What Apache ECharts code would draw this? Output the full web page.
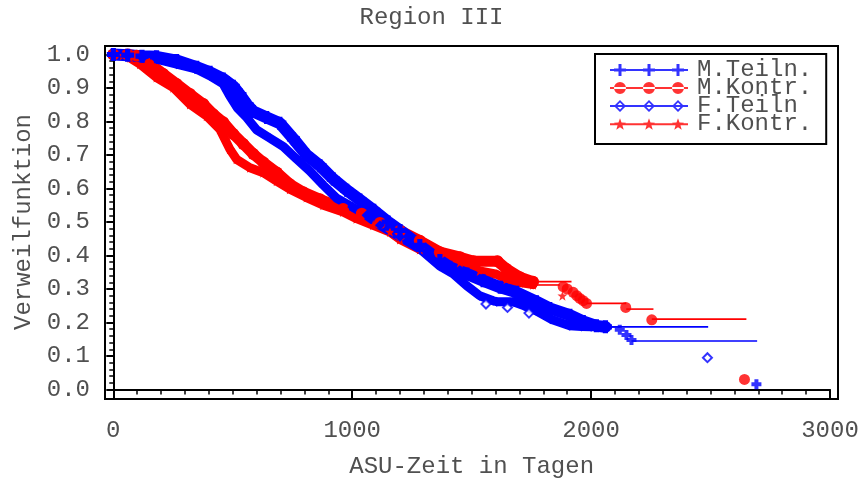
<!DOCTYPE html>
<html><head><meta charset="utf-8">
<script src="https://cdn.jsdelivr.net/npm/echarts@6/dist/echarts.min.js"></script>
<style>html,body{margin:0;padding:0;background:#fff}#c{width:863px;height:479px}</style>
</head><body><div id="c"></div>
<script>
// ---------- data ----------
const seriesNames = ['M.Teiln.', 'M.Kontr.', 'F.Teiln', 'F.Kontr.'];
const xTickValues = [0, 1000, 2000, 3000];
const yTickValues = [0, 0.1, 0.2, 0.3, 0.4, 0.5, 0.6, 0.7, 0.8, 0.9, 1.0];

// dense part of each Kaplan-Meier curve (time in days, survival)
const mTeilnT = [0, 60, 120, 181, 265, 349, 405, 460, 502, 530, 560, 586, 642, 697, 754, 809, 865, 921, 977, 1032, 1090, 1150, 1200, 1283, 1367, 1409, 1480, 1548, 1620, 1688, 1771, 1827, 1911, 1967, 2022, 2060];
const mTeilnS = [1.0, 0.998, 0.995, 0.993, 0.982, 0.962, 0.947, 0.927, 0.905, 0.88, 0.85, 0.83, 0.812, 0.795, 0.748, 0.70, 0.668, 0.628, 0.595, 0.566, 0.535, 0.50, 0.475, 0.43, 0.385, 0.365, 0.345, 0.325, 0.305, 0.29, 0.262, 0.242, 0.222, 0.203, 0.19, 0.187];

const fTeilnT = [0, 60, 120, 181, 265, 349, 405, 460, 488, 520, 558, 600, 656, 712, 767, 823, 879, 935, 1000, 1060, 1116, 1200, 1283, 1367, 1423, 1479, 1534, 1590, 1605, 1674, 1720, 1770, 1832, 1911, 1960, 2000];
const fTeilnS = [1.0, 0.996, 0.99, 0.986, 0.971, 0.956, 0.936, 0.912, 0.876, 0.84, 0.812, 0.775, 0.75, 0.725, 0.688, 0.652, 0.61, 0.571, 0.545, 0.52, 0.49, 0.455, 0.42, 0.368, 0.345, 0.31, 0.28, 0.265, 0.262, 0.262, 0.25, 0.235, 0.21, 0.19, 0.188, 0.187];

const mKontrT = [0, 60, 98, 154, 209, 265, 321, 377, 418, 460, 502, 544, 586, 628, 684, 739, 795, 865, 962, 1040, 1116, 1200, 1283, 1367, 1451, 1508, 1608, 1646, 1702, 1757];
const mKontrS = [1.0, 1.0, 0.996, 0.972, 0.942, 0.912, 0.882, 0.852, 0.822, 0.798, 0.763, 0.733, 0.703, 0.678, 0.648, 0.613, 0.589, 0.568, 0.539, 0.525, 0.497, 0.474, 0.444, 0.41, 0.395, 0.383, 0.383, 0.36, 0.335, 0.322];

const fKontrT = [0, 40, 70, 112, 181, 251, 321, 391, 446, 488, 516, 572, 628, 684, 739, 809, 879, 962, 1018, 1088, 1158, 1200, 1283, 1367, 1451, 1534, 1604, 1646, 1702, 1757];
const fKontrS = [1.0, 0.998, 0.99, 0.971, 0.931, 0.901, 0.851, 0.816, 0.777, 0.717, 0.687, 0.662, 0.647, 0.622, 0.598, 0.573, 0.55, 0.53, 0.51, 0.49, 0.47, 0.448, 0.418, 0.395, 0.379, 0.354, 0.344, 0.329, 0.319, 0.313];

// thin horizontal steps of the sparse tails: [from, to, survival]
const mTeilnSteps = [[2060, 2120, 0.187], [2169, 2695, 0.145]];
const fTeilnSteps = [[2000, 2490, 0.187]];
const mKontrSteps = [[1757, 1918, 0.322], [1981, 2147, 0.257], [2147, 2261, 0.24], [2254, 2650, 0.21]];
const fKontrSteps = [[1757, 1869, 0.312]];

// censor / event markers of the tails: [time, survival]
const mTeilnMarks = [[2120, 0.178], [2148, 0.163], [2169, 0.148], [2692, 0.016]];
const fTeilnMarks = [[1560, 0.255], [1650, 0.245], [1740, 0.228], [2487, 0.095]];
const mKontrMarks = [[1883, 0.307], [1900, 0.30], [1925, 0.29], [1940, 0.28], [1953, 0.272], [1967, 0.265], [1981, 0.257], [2145, 0.245], [2254, 0.208], [2642, 0.03]];
const fKontrMarks = [[1880, 0.28]];

// ---------- styling ----------
const FONT = '"Liberation Mono", "DejaVu Sans Mono", monospace';
const TXT = '#505050';
const BLUE = '#0000ff', RED = '#ff0000';
const zip = (a, b) => a.map((v, i) => [v, b[i]]);

const plusSym = 'path://M3,0h4v3h3v4h-3v3h-4v-3h-3v-4h3z';
const starSym = 'path://M5,0L6.18,3.38L9.76,3.45L6.9,5.62L7.94,9.05L5,7L2.06,9.05L3.1,5.62L0.24,3.45L3.82,3.38Z';

function markerD(kind, cx) {
  if (kind === 'plus') return `M${cx-1.5},0h3v4.5h4.5v3h-4.5v4.5h-3v-4.5h-4.5v-3h4.5z`;
  if (kind === 'circle') return `M${cx-6},6a6,6 0 1,0 12,0a6,6 0 1,0 -12,0z`;
  if (kind === 'diamond') return `M${cx},0L${cx+6},6L${cx},12L${cx-6},6Z M${cx},2.5L${cx-3.5},6L${cx},9.5L${cx+3.5},6Z`;
  let d = '';
  for (let k = 0; k < 10; k++) {
    const r = k % 2 === 0 ? 6.3 : 2.6;
    const a = (-90 + k * 36) * Math.PI / 180;
    d += (k === 0 ? 'M' : 'L') + (cx + r * Math.cos(a)).toFixed(2) + ',' + (6.3 + r * Math.sin(a)).toFixed(2);
  }
  return d + 'Z';
}
function legendIcon(kind) {
  let d = 'M0,5H78V7H0Z';
  for (const cx of [10, 39, 68]) d += ' ' + markerD(kind, cx);
  return 'path://' + d;
}

function bandSeries(name, data, color, symbol, size, width) {
  return { type: 'line', name, xAxisIndex: 1, yAxisIndex: 1, data, symbol, symbolSize: size,
    showSymbol: true, showAllSymbol: true, clip: false, z: 2, silent: true,
    lineStyle: { width, color, cap: 'round', join: 'round' },
    itemStyle: { color, borderWidth: 0 }, emphasis: { disabled: true } };
}
function stepSeries(name, data, color) {
  return { type: 'custom', name, xAxisIndex: 1, yAxisIndex: 1, data, encode: { x: [0, 1], y: 2 },
    clip: false, z: 3, silent: true,
    renderItem: (params, api) => {
      const a = api.coord([api.value(0), api.value(2)]);
      const b = api.coord([api.value(1), api.value(2)]);
      return { type: 'line', shape: { x1: a[0], y1: a[1], x2: b[0], y2: b[1] }, style: { stroke: color, lineWidth: 1.6 } };
    } };
}
function markSeries(name, data, color, symbol, size) {
  return { type: 'scatter', name, xAxisIndex: 1, yAxisIndex: 1, data, symbol, symbolSize: size,
    itemStyle: { color, borderWidth: 0 }, clip: false, z: 4, silent: true };
}

const axisText = { fontFamily: FONT, fontSize: 24, color: TXT };

const option = {
  animation: false,
  backgroundColor: '#fff',
  title: { text: 'Region III', left: 'center', top: 6, padding: 0,
    textStyle: { fontFamily: FONT, fontSize: 24, fontWeight: 'normal', color: TXT } },
  grid: [
    { left: 105, top: 46, width: 733, height: 353, show: true, borderColor: '#000', borderWidth: 2,
      backgroundColor: 'rgba(0,0,0,0)', containLabel: false, outerBoundsMode: 'none' },
    { left: 113.3, top: 54.5, width: 716.7, height: 335, containLabel: false, outerBoundsMode: 'none' }
  ],
  xAxis: [
    { gridIndex: 0, type: 'value', show: false, min: 0, max: 1 },
    { gridIndex: 1, type: 'value', min: xTickValues[0], max: xTickValues[xTickValues.length - 1],
      interval: xTickValues[1] - xTickValues[0], position: 'bottom', offset: 10,
      axisLine: { show: true, lineStyle: { color: '#000', width: 2 } },
      axisTick: { show: true, length: 10, lineStyle: { color: '#000', width: 2 } },
      minorTick: { show: true, splitNumber: 10, length: 5, lineStyle: { color: '#000', width: 1.5 } },
      splitLine: { show: false },
      axisLabel: Object.assign({ margin: 19, formatter: v => String(v) }, axisText),
      name: 'ASU-Zeit in Tagen', nameLocation: 'middle', nameGap: 55, nameTextStyle: axisText }
  ],
  yAxis: [
    { gridIndex: 0, type: 'value', show: false, min: 0, max: 1 },
    { gridIndex: 1, type: 'value', min: yTickValues[0], max: yTickValues[yTickValues.length - 1],
      interval: 0.1, position: 'left', offset: 8.3,
      axisLine: { show: true, lineStyle: { color: '#000', width: 2 } },
      axisTick: { show: true, length: 7, lineStyle: { color: '#000', width: 2 } },
      minorTick: { show: true, splitNumber: 5, length: 4, lineStyle: { color: '#000', width: 1.5 } },
      splitLine: { show: false },
      axisLabel: Object.assign({ margin: 15, formatter: v => v.toFixed(1) }, axisText),
      name: 'Verweilfunktion', nameLocation: 'middle', nameGap: 69, nameTextStyle: axisText }
  ],
  legend: {
    orient: 'vertical', left: 595, top: 54, padding: [4, 14, 8, 15], itemGap: -6,
    itemWidth: 78, itemHeight: 12, borderColor: '#000', borderWidth: 2, backgroundColor: '#fff',
    selectedMode: false,
    textStyle: { fontFamily: FONT, fontSize: 24, color: TXT, padding: [0, 0, 0, 4] },
    data: [
      { name: seriesNames[0], icon: legendIcon('plus'), itemStyle: { color: BLUE, borderWidth: 0 } },
      { name: seriesNames[1], icon: legendIcon('circle'), itemStyle: { color: RED, borderWidth: 0 } },
      { name: seriesNames[2], icon: legendIcon('diamond'), itemStyle: { color: BLUE, borderWidth: 0 } },
      { name: seriesNames[3], icon: legendIcon('star'), itemStyle: { color: RED, borderWidth: 0 } }
    ]
  },
  series: [
    markSeries(seriesNames[0], mTeilnMarks, BLUE, plusSym, 10),
    markSeries(seriesNames[1], mKontrMarks, RED, 'circle', 11),
    markSeries(seriesNames[2], fTeilnMarks, BLUE, 'emptyDiamond', 9),
    markSeries(seriesNames[3], fKontrMarks, RED, starSym, 10),
    bandSeries(seriesNames[1], zip(mKontrT, mKontrS), RED, 'circle', 12, 11),
    bandSeries(seriesNames[3], zip(fKontrT, fKontrS), RED, starSym, 10, 9),
    bandSeries(seriesNames[0], zip(mTeilnT, mTeilnS), BLUE, plusSym, 13, 12),
    bandSeries(seriesNames[2], zip(fTeilnT, fTeilnS), BLUE, 'diamond', 10, 9),
    stepSeries(seriesNames[0], mTeilnSteps, BLUE),
    stepSeries(seriesNames[1], mKontrSteps, RED),
    stepSeries(seriesNames[2], fTeilnSteps, BLUE),
    stepSeries(seriesNames[3], fKontrSteps, RED)
  ]
};
const chart = echarts.init(document.getElementById('c'), null, { renderer: 'canvas' });
chart.setOption(option);
</script>
</body></html>
